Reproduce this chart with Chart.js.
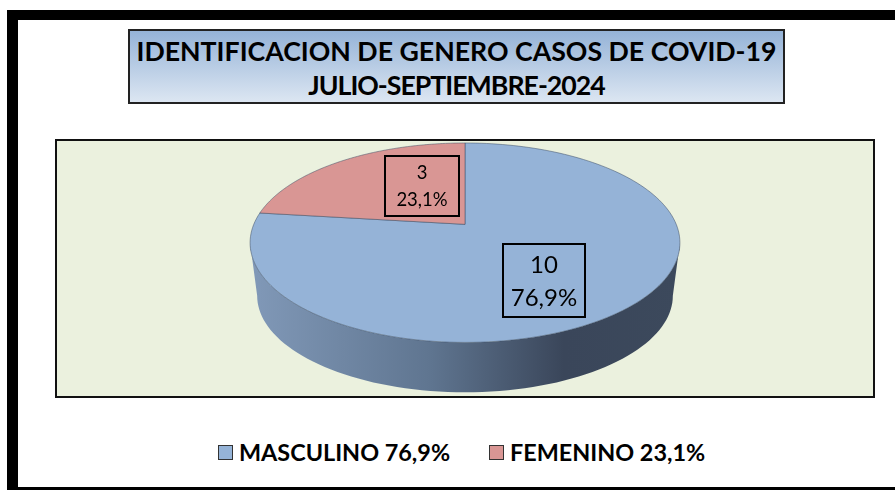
<!DOCTYPE html>
<html>
<head>
<meta charset="utf-8">
<script src="https://cdn.jsdelivr.net/npm/chart.js@4"></script>
<style>
    html, body { margin: 0; background: #fff; overflow: hidden; }
    body { position: relative; width: 895px; height: 490px; font-family: Lato, sans-serif; color: #000; }
    .frame { position: absolute; left: 7px; top: 10px; right: 0; bottom: 0; box-sizing: border-box;
        border-left: 11px solid #000; border-top: 10px solid #000; border-bottom: 3px solid #000; }
    .title { position: absolute; left: 128px; top: 29px; width: 657px; height: 75px; box-sizing: border-box;
        border: 2px solid #222; background: linear-gradient(#95b3d7, #dce6f2);
        text-align: center; font-weight: bold; font-size: 26.7px; line-height: 34px; padding-top: 3px; }
    .title span { letter-spacing: -1px; }
    .plot { position: absolute; left: 55px; top: 139px; width: 820px; height: 259px; box-sizing: border-box;
        border: 2px solid #111; background: #ebf1de; }
    .legend { position: absolute; top: 436px; left: 218px; display: flex; font-weight: bold; font-size: 23.4px; line-height: 32px; }
    .legend span { display: flex; align-items: center; }
    .legend span + span { margin-left: 39px; }
    .legend i { width: 13px; height: 13px; border: 1.5px solid #333; margin-right: 6px; }
</style>
</head>
<body>
<div class="frame"></div>
<div class="title">IDENTIFICACION DE GENERO CASOS DE COVID-19<br><span>JULIO-SEPTIEMBRE-2024</span></div>
<div class="plot"><canvas id="pie"></canvas></div>
<div class="legend" id="legend"></div>

<script>
const categories = ['MASCULINO', 'FEMENINO'];
const casos = [10, 3];
const porcentajes = ['76,9%', '23,1%'];
const colores = ['#95b3d7', '#d99694'];

// the pie is seen from above, so its disc is a perspective view of the library's circle
const tilt = { stretchX: 1.67, stretchY: 0.7616, apex: -0.349, lean: -0.184, shrink: 0.967, floorY: 0.42, midY: -0.204 };

function project(el, angle) {
    const u = Math.cos(angle);
    const v = Math.sin(angle);
    const w = 1 + tilt.lean * v;
    return {
        x: el.x + el.outerRadius * tilt.stretchX * u / w,
        y: el.y + el.outerRadius * (tilt.apex + tilt.stretchY * v / w),
    };
}

function floorPoint(el, p) {
    const mid = el.y + el.outerRadius * tilt.midY;
    return {
        x: el.x + (p.x - el.x) * tilt.shrink,
        y: mid + el.outerRadius * tilt.floorY + (p.y - mid) * tilt.shrink,
    };
}

class TiltedArc extends Chart.ArcElement {
    static id = 'tiltedArc';

    drawWall(ctx, start, end) {
        const edge = Math.asin(-tilt.lean);
        const from = Math.max(start, edge);
        const to = Math.min(end, Math.PI - edge);

        if (to <= from) {
            return;
        }

        const top = [];
        for (let i = 0; i <= 80; i++) {
            top.push(project(this, from + (to - from) * i / 80));
        }

        const wall = ctx.createLinearGradient(top[80].x, 0, top[0].x, 0);
        wall.addColorStop(0, '#8199b8');
        wall.addColorStop(0.42, '#5f7590');
        wall.addColorStop(0.73, '#3a465a');
        wall.addColorStop(1, '#3c495c');

        ctx.beginPath();
        top.forEach((p, i) => (i ? ctx.lineTo(p.x, p.y) : ctx.moveTo(p.x, p.y)));
        top.slice().reverse().forEach((p) => {
            const f = floorPoint(this, p);
            ctx.lineTo(f.x, f.y);
        });
        ctx.closePath();
        ctx.fillStyle = wall;
        ctx.fill();
    }

    draw(ctx) {
        const { startAngle, endAngle } = this.getProps(['startAngle', 'endAngle']);

        this.drawWall(ctx, startAngle, endAngle);

        ctx.beginPath();
        ctx.moveTo(this.x, this.y + this.outerRadius * tilt.apex);
        for (let i = 0; i <= 160; i++) {
            const p = project(this, startAngle + (endAngle - startAngle) * i / 160);
            ctx.lineTo(p.x, p.y);
        }
        ctx.closePath();
        ctx.fillStyle = this.options.backgroundColor;
        ctx.fill();
        ctx.lineWidth = 1;
        ctx.strokeStyle = 'rgba(60, 75, 100, 0.5)';
        ctx.stroke();
    }
}

class TiltedPie extends Chart.PieController {
    static id = 'tiltedPie';
    static defaults = { dataElementType: 'tiltedArc' };
}

Chart.register(TiltedArc, TiltedPie);

const sliceLabels = {
    id: 'sliceLabels',
    afterDatasetsDraw(chart, args, opts) {
        const { ctx } = chart;

        opts.boxes.forEach((box, i) => {
            ctx.save();
            ctx.strokeStyle = '#000';
            ctx.lineWidth = 2;
            ctx.strokeRect(box.x, box.y, box.w, box.h);
            ctx.fillStyle = '#000';
            ctx.font = `${box.size}px Lato`;
            ctx.textAlign = 'center';
            ctx.textBaseline = 'middle';
            ctx.fillText(String(casos[i]), box.x + box.w / 2, box.y + box.h * 0.29);
            ctx.fillText(porcentajes[i], box.x + box.w / 2, box.y + box.h * 0.74);
            ctx.restore();
        });
    },
};

new Chart(document.getElementById('pie'), {
    type: 'tiltedPie',
    data: {
        labels: categories,
        datasets: [{ data: casos, backgroundColor: colores }],
    },
    options: {
        responsive: true,
        maintainAspectRatio: false,
        animation: false,
        plugins: {
            legend: { display: false },
            tooltip: { enabled: false },
            sliceLabels: {
                boxes: [
                    { x: 446, y: 103, w: 82, h: 73, size: 24 },
                    { x: 328, y: 15, w: 74, h: 60, size: 18.5 },
                ],
            },
        },
    },
    plugins: [sliceLabels],
});

document.getElementById('legend').innerHTML = categories
    .map((name, i) => `<span><i style="background:${colores[i]}"></i>${name} ${porcentajes[i]}</span>`)
    .join('');
</script>
</body>
</html>
